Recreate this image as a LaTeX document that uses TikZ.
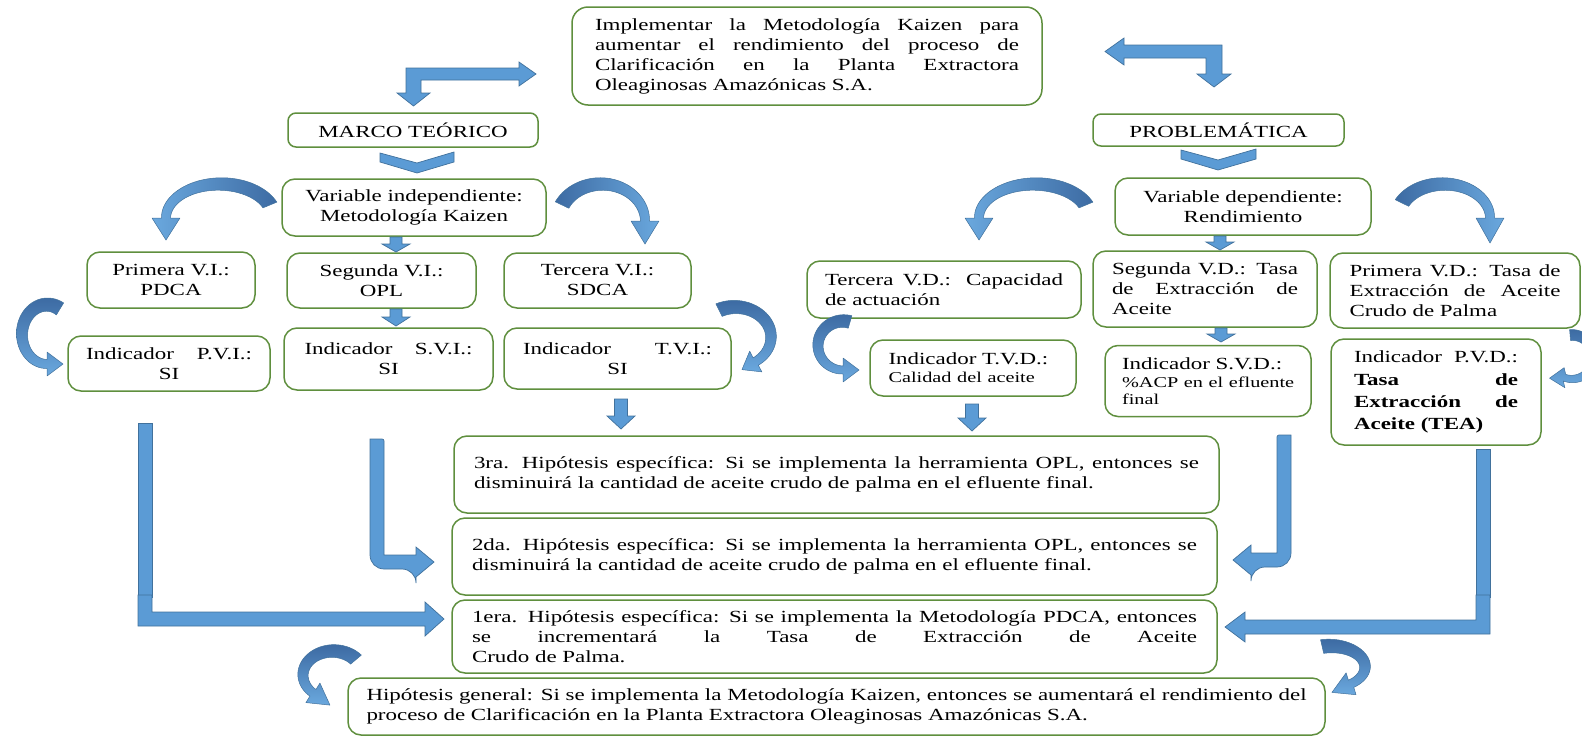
\documentclass[tikz,border=0pt]{standalone}
\usepackage{fontspec}
\setmainfont{Liberation Serif}[FakeStretch=1.35]
\usetikzlibrary{calc}

\definecolor{boxgreen}{HTML}{5F8F3E}
\definecolor{arrfill}{HTML}{5B9BD5}
\definecolor{arrline}{HTML}{41719C}
\definecolor{arrdark}{HTML}{3D6BA3}
\definecolor{arrlight}{HTML}{6AA8DE}

\newcommand\smallf{\fontsize{15}{17}\selectfont}
% a fully justified line of the given width (interword glue free to stretch)
\newcommand\jline[2]{\makebox[#1][s]{\spaceskip=0pt\xspaceskip=0pt #2}}

\tikzset{
  box/.style={draw=boxgreen, line width=1.5pt, fill=white, rounded corners=13pt,
              inner sep=0pt, font=\fontsize{17}{20}\selectfont},
  blk/.style={fill=arrfill, draw=arrline, line width=0.7pt, line join=miter},
}

% straight block arrow pointing down, from #1 to #2
% #3 shaft half width, #4 head half width, #5 head length (pt)
\newcommand\downblock[5]{%
  \path[blk] let \p1=(#1), \p2=(#2) in
    (\x1-#3pt,\y1) -- (\x1+#3pt,\y1) -- (\x1+#3pt,\y2+#5pt) -- (\x1+#4pt,\y2+#5pt)
    -- (\x1,\y2) -- (\x1-#4pt,\y2+#5pt) -- (\x1-#3pt,\y2+#5pt) -- cycle;}

% curved band arrow along an elliptic arc
\pgfqkeys{/carr}{
  cx/.store in=\cAcx, cy/.store in=\cAcy, rx/.store in=\cArx, ry/.store in=\cAry,
  from/.store in=\cAa, to/.store in=\cAb, wt/.store in=\cAwt, wh/.store in=\cAwh,
  hw/.store in=\cAhw, hl/.store in=\cAhl, tilt/.store in=\cAtilt,
  shading/.code={\tikzset{cAshd/.style={#1}}}}

\newcommand\bandarrow[1]{%
  \begingroup
  \pgfqkeys{/carr}{tilt=0, wt=14, wh=9, hw=13, hl=20,
    shading={left color=arrlight, right color=arrdark}, #1}%
  \pgfmathsetmacro\cAs{((\cAb)>(\cAa)) ? 1 : -1}%
  \pgfmathsetmacro\cAk{((\cAwh)-(\cAwt))/((\cAb)-(\cAa))}%
  \pgfmathsetmacro\cAbx{(\cAcx)+(\cArx)*cos(\cAb)}%
  \pgfmathsetmacro\cAby{(\cAcy)+(\cAry)*sin(\cAb)}%
  \pgfmathsetmacro\cAphi{atan2((\cAs)*(\cAry)*cos(\cAb),(-1)*(\cAs)*(\cArx)*sin(\cAb))+(\cAtilt)}%
  \pgfmathsetmacro\cAsg{(cos((\cAphi)+90-(\cAb))>0) ? 1 : -1}%
  \pgfmathsetmacro\cAox{(\cAbx)+(\cAsg)*(\cAhw)*cos((\cAphi)+90)}%
  \pgfmathsetmacro\cAoy{(\cAby)+(\cAsg)*(\cAhw)*sin((\cAphi)+90)}%
  \pgfmathsetmacro\cAix{(\cAbx)-(\cAsg)*(\cAhw)*cos((\cAphi)+90)}%
  \pgfmathsetmacro\cAiy{(\cAby)-(\cAsg)*(\cAhw)*sin((\cAphi)+90)}%
  \pgfmathsetmacro\cAtx{(\cAbx)+(\cAhl)*cos(\cAphi)}%
  \pgfmathsetmacro\cAty{(\cAby)+(\cAhl)*sin(\cAphi)}%
  \path[cAshd, draw=arrline, line width=0.5pt, line join=round]
    plot[domain=\cAa:\cAb, samples=40, variable=\cAt]
      ({(\cAcx)+((\cArx)+((\cAwt)+(\cAk)*(\cAt-(\cAa)))/2)*cos(\cAt)},
       {(\cAcy)+((\cAry)+((\cAwt)+(\cAk)*(\cAt-(\cAa)))/2)*sin(\cAt)})
    -- (\cAox,\cAoy) -- (\cAtx,\cAty) -- (\cAix,\cAiy)
    -- plot[domain=\cAb:\cAa, samples=40, variable=\cAt]
      ({(\cAcx)+((\cArx)-((\cAwt)+(\cAk)*(\cAt-(\cAa)))/2)*cos(\cAt)},
       {(\cAcy)+((\cAry)-((\cAwt)+(\cAk)*(\cAt-(\cAa)))/2)*sin(\cAt)})
    -- cycle;
  \endgroup}

\hyphenpenalty=10000
\exhyphenpenalty=10000

\begin{document}
\begin{tikzpicture}[x=1pt,y=-1pt]
\useasboundingbox (0,0) rectangle (1582,737);
\clip (0,0) rectangle (1582,737);

% ---------- boxes ----------
\node[box, rounded corners=16pt, minimum width=470pt, minimum height=98pt,
      text width=424pt, align=left] (goal) at (807,56)
  {\jline{424pt}{Implementar la Metodología Kaizen para}\\
   \jline{424pt}{aumentar el rendimiento del proceso de}\\
   \jline{424pt}{Clarificación en la Planta Extractora}\\
   Oleaginosas Amazónicas S.A.};

\node[box, rounded corners=8pt, minimum width=250pt, minimum height=34pt] (marco) at (413,130) {MARCO TEÓRICO};
\node[box, rounded corners=8pt, minimum width=251pt, minimum height=32pt] (prob) at (1218.5,130) {PROBLEMÁTICA};

\node[box, minimum width=264pt, minimum height=57pt, align=center] (vi) at (414,207.5)
  {Variable independiente:\\Metodología Kaizen};
\node[box, minimum width=256pt, minimum height=57pt, align=center] (vd) at (1243,206.5)
  {Variable dependiente:\\Rendimiento};

\node[box, minimum width=168pt, minimum height=56pt, align=center] (vi1) at (171,280) {Primera V.I.:\\PDCA};
\node[box, minimum width=189pt, minimum height=55pt, align=center] (vi2) at (381.5,280.5) {Segunda V.I.:\\OPL};
\node[box, minimum width=187pt, minimum height=55pt, align=center] (vi3) at (597.5,280.5) {Tercera V.I.:\\SDCA};

\node[box, minimum width=202pt, minimum height=55pt, align=center] (ind1) at (169,363.5)
  {\jline{166pt}{Indicador P.V.I.:}\\SI};
\node[box, minimum width=209pt, minimum height=62pt, align=center] (ind2) at (388.5,359)
  {\jline{168pt}{Indicador S.V.I.:}\\SI};
\node[box, minimum width=227pt, minimum height=61pt, align=center] (ind3) at (617.5,358.5)
  {\jline{189pt}{Indicador T.V.I.:}\\SI};

\node[box, minimum width=274pt, minimum height=57pt, text width=238pt, align=left] (vd3) at (944,289.5)
  {\jline{238pt}{Tercera V.D.: Capacidad}\\de actuación};
\node[box, minimum width=224pt, minimum height=76pt, text width=186pt, align=left] (vd2) at (1205,289)
  {\jline{186pt}{Segunda V.D.: Tasa}\\\jline{186pt}{de Extracción de}\\Aceite};
\node[box, minimum width=250pt, minimum height=75pt, text width=211pt, align=left] (vd1) at (1455,290.5)
  {\jline{211pt}{Primera V.D.: Tasa de}\\\jline{211pt}{Extracción de Aceite}\\Crudo de Palma};

\node[box, minimum width=206pt, minimum height=56pt, text width=169pt, align=left] (dind3) at (973,368)
  {Indicador T.V.D.:\\[-2pt]{\smallf Calidad del aceite}};
\node[box, minimum width=206pt, minimum height=71pt, text width=172pt, align=left] (dind2) at (1208,381)
  {Indicador S.V.D.:\\[-2pt]\mbox{\smallf\%ACP en el efluente}\\[-3pt]{\smallf final}};
\node[box, minimum width=210pt, minimum height=106pt, text width=164pt, align=left] (dind1) at (1436,392)
  {\jline{164pt}{Indicador P.V.D.:}\\[3pt]\textbf{\jline{164pt}{Tasa de}}\\[2pt]%
   \textbf{\jline{164pt}{Extracción de}}\\[2pt]\textbf{Aceite (TEA)}};

\node[box, minimum width=765pt, minimum height=77pt, text width=725pt, align=left] (h3) at (836.5,474.5)
  {\jline{725pt}{3ra. Hipótesis específica: Si se implementa la herramienta OPL, entonces se}\\
   disminuirá la cantidad de aceite crudo de palma en el efluente final.\\[4pt]};
\node[box, minimum width=765pt, minimum height=77pt, text width=725pt, align=left] (h2) at (834.5,556.5)
  {\jline{725pt}{2da. Hipótesis específica: Si se implementa la herramienta OPL, entonces se}\\
   disminuirá la cantidad de aceite crudo de palma en el efluente final.\\[4pt]};
\node[box, minimum width=765pt, minimum height=73pt, text width=725pt, align=left] (h1) at (834.5,636.5)
  {\jline{725pt}{1era. Hipótesis específica: Si se implementa la Metodología PDCA, entonces}\\
   \jline{725pt}{se incrementará la Tasa de Extracción de Aceite}\\
   Crudo de Palma.};
\node[box, minimum width=977pt, minimum height=57pt, text width=940pt, align=left] (hg) at (836.5,706.5)
  {\jline{940pt}{Hipótesis general: Si se implementa la Metodología Kaizen, entonces se aumentará el rendimiento del}\\
   proceso de Clarificación en la Planta Extractora Oleaginosas Amazónicas S.A.};

% ---------- bent arrows at the top ----------
\coordinate (bentL) at (406,68);
\coordinate (bentR) at (1222,45);
\path[blk, shift={(bentL)}] (0,0) -- (113,0) -- (113,-6) -- (130,6) -- (113,18) -- (113,12)
  -- (15,12) -- (15,25) -- (24,25) -- (7.5,38) -- (-9,25) -- (0,25) -- cycle;
\path[blk, shift={(bentR)}] (0,0) -- (-98,0) -- (-98,-7) -- (-117,6.5) -- (-98,20) -- (-98,13)
  -- (-16,13) -- (-16,29) -- (-25,29) -- (-8,42) -- (9,29) -- (0,29) -- cycle;

% ---------- chevrons ----------
\coordinate (chevL) at (380,152);
\coordinate (chevR) at (1181,149);
\path[blk, shift={(chevL)}] (0,1) -- (37,11) -- (74,0) -- (74,10) -- (37,21) -- (0,10) -- cycle;
\path[blk, shift={(chevR)}] (0,1) -- (37,11) -- (75,0) -- (75,10) -- (37,21) -- (0,10) -- cycle;

% ---------- short straight arrows ----------
\coordinate (d1a) at (396,237);  \coordinate (d1b) at (396,252);
\coordinate (d2a) at (396,309);  \coordinate (d2b) at (396,326);
\coordinate (d3a) at (1220,236); \coordinate (d3b) at (1220,250);
\coordinate (d4a) at (1221,328); \coordinate (d4b) at (1221,342);
\coordinate (d5a) at (621,399);  \coordinate (d5b) at (621,429);
\coordinate (d6a) at (972,404);  \coordinate (d6b) at (972,431);
\downblock{d1a}{d1b}{6}{14}{8}
\downblock{d2a}{d2b}{6}{14}{9}
\downblock{d3a}{d3b}{6}{14}{8}
\downblock{d4a}{d4b}{6}{14}{8}
\downblock{d5a}{d5b}{6.5}{14}{13}
\downblock{d6a}{d6b}{6.5}{14}{13}

% ---------- long connectors to the hypotheses ----------
\path[blk] (138,423) rectangle (152,597);
\path[blk] (138,595) -- (152,595) -- (152,612) -- (425,612) -- (425,602) -- (444,619)
  -- (425,636) -- (425,626) -- (138,626) -- cycle;
\path[blk] (370,439) [rounded corners=14pt] -- (370,569) -- (416,569) [sharp corners]
  -- (416,577) -- (434,562) -- (416,547) -- (416,555) -- (384,555) [rounded corners=2pt]
  -- (384,439) [sharp corners] -- cycle;
\path[blk] (1291,435) [rounded corners=14pt] -- (1291,567) -- (1251,567) [sharp corners]
  -- (1251,575) -- (1233,560) -- (1251,545) -- (1251,553) -- (1277,553) [rounded corners=2pt]
  -- (1277,435) [sharp corners] -- cycle;
\path[blk] (1476,449) rectangle (1490,597);
\path[blk] (1476,595) -- (1490,595) -- (1490,634) -- (1245,634) -- (1245,642) -- (1225,627)
  -- (1245,612) -- (1245,620) -- (1476,620) -- cycle;

% ---------- curved arrows ----------
\bandarrow{cx=220, cy=218, rx=54, ry=34, from=-22.5, to=-180, wt=15, wh=9, hw=14, hl=22}
\bandarrow{cx=601.4, cy=221, rx=43.6, ry=37, from=-154.4, to=0, wt=15, wh=9, hw=14, hl=23,
  shading={left color=arrdark, right color=arrlight}}
\bandarrow{cx=1034.6, cy=218, rx=55.6, ry=34, from=-22.5, to=-180, wt=15, wh=9, hw=14, hl=22}
\bandarrow{cx=1443.6, cy=218, rx=46.4, ry=34, from=-153.8, to=0, wt=15, wh=9, hw=14, hl=25,
  shading={left color=arrdark, right color=arrlight}}
\bandarrow{cx=47, cy=334.3, rx=25, ry=29.7, from=-58.7, to=-270, wt=14, wh=9, hw=12, hl=16,
  shading={top color=arrdark, bottom color=arrlight}}
\bandarrow{cx=735, cy=337, rx=36, ry=30, from=-116.4, to=54.8, wt=14, wh=9, hw=12, hl=16,
  shading={top color=arrdark, bottom color=arrlight}}
\bandarrow{cx=843, cy=345.5, rx=25, ry=24.5, from=-73.7, to=-270, wt=13, wh=8, hw=12, hl=16,
  shading={top color=arrdark, bottom color=arrlight}}
\bandarrow{cx=1572, cy=357, rx=22, ry=22, from=-95, to=110, wt=11, wh=7, hw=10, hl=15, tilt=-22,
  shading={top color=arrdark, bottom color=arrlight}}
\bandarrow{cx=333, cy=675, rx=30, ry=24, from=-40, to=-228, wt=14, wh=9, hw=12, hl=21,
  shading={top color=arrdark, bottom color=arrlight}}
\bandarrow{cx=1330, cy=667, rx=35, ry=21, from=-103, to=53, wt=14, wh=9, hw=12, hl=21,
  shading={top color=arrdark, bottom color=arrlight}}
\end{tikzpicture}
\end{document}
